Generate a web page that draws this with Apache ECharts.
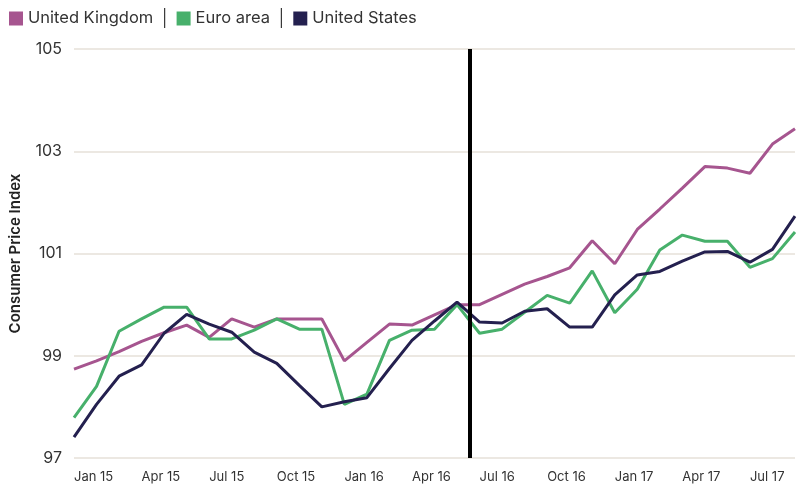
<!DOCTYPE html>
<html>
<head>
<meta charset="utf-8">
<script src="https://cdn.jsdelivr.net/npm/echarts@6/dist/echarts.min.js"></script>
<style>
  html, body { margin: 0; padding: 0; background: #fff; }
  #chart { width: 800px; height: 488px; }
</style>
</head>
<body>
<div id="chart"></div>
<script>
// months Jan 15 .. Sep 17, x value = index into this list
var months = [
  'Jan 15', 'Feb 15', 'Mar 15', 'Apr 15', 'May 15', 'Jun 15', 'Jul 15', 'Aug 15', 'Sep 15', 'Oct 15', 'Nov 15', 'Dec 15',
  'Jan 16', 'Feb 16', 'Mar 16', 'Apr 16', 'May 16', 'Jun 16', 'Jul 16', 'Aug 16', 'Sep 16', 'Oct 16', 'Nov 16', 'Dec 16',
  'Jan 17', 'Feb 17', 'Mar 17', 'Apr 17', 'May 17', 'Jun 17', 'Jul 17', 'Aug 17', 'Sep 17'
]
var ukCpi = [
  98.74, 98.9, 99.08, 99.28, 99.45, 99.6, 99.36, 99.72, 99.56, 99.72, 99.72, 99.72,
  98.9, 99.26, 99.62, 99.6, 99.8, 100.0, 100.0, 100.2, 100.4, 100.55, 100.72, 101.25,
  100.8, 101.47, 101.87, 102.28, 102.7, 102.67, 102.57, 103.14, 103.44
]
var euroCpi = [
  97.79, 98.4, 99.48, 99.72, 99.95, 99.95, 99.33, 99.33, 99.5, 99.72, 99.52, 99.52,
  98.05, 98.25, 99.3, 99.5, 99.52, 100.0, 99.44, 99.52, 99.85, 100.18, 100.03, 100.66,
  99.84, 100.3, 101.07, 101.36, 101.24, 101.24, 100.73, 100.9, 101.42
]
var usCpi = [
  97.41, 98.05, 98.6, 98.82, 99.44, 99.81, 99.62, 99.46, 99.07, 98.85, 98.42, 98.0,
  98.1, 98.18, 98.75, 99.3, 99.68, 100.05, 99.66, 99.64, 99.87, 99.92, 99.56, 99.56,
  100.19, 100.58, 100.65, 100.85, 101.03, 101.04, 100.83, 101.08, 101.73
]
// EU referendum, 23 June 2016 (month index 17 + ~0.6)
var referendumAt = 17.58

var colors = ['#a6558f', '#47b06b', '#24204f']
var fontFamily = 'Inter, "Noto Sans", sans-serif'

function pairs(values) {
  return values.map(function(v, i) { return [i, v] })
}

function lineSeries(name, values, color) {
  return {
    name: name,
    type: 'line',
    data: pairs(values),
    symbol: 'none',
    animation: false,
    lineStyle: { width: 3, color: color },
    itemStyle: { color: color },
    z: 3
  }
}

var chart = echarts.init(document.getElementById('chart'))
chart.setOption({
  color: colors,
  textStyle: { fontFamily: fontFamily },
  legend: {
    left: 4,
    top: 5,
    itemWidth: 14,
    itemHeight: 14,
    itemGap: 6,
    icon: 'rect',
    textStyle: {
      fontSize: 16.5,
      color: '#333',
      fontFamily: fontFamily,
      rich: {
        sep: { fontSize: 16.5, color: '#333', padding: [0, 0, 0, 7] }
      }
    },
    formatter: function(name) {
      return name === 'United States' ? name : name + '{sep|\u2502}'
    },
    data: ['United Kingdom', 'Euro area', 'United States']
  },
  grid: {
    left: 74,
    right: 5,
    top: 49,
    bottom: 30,
    outerBoundsMode: 'none'
  },
  xAxis: {
    type: 'value',
    min: 0,
    max: months.length - 1,
    interval: 3,
    axisLine: { show: false },
    axisTick: { show: false },
    splitLine: { show: false },
    axisLabel: {
      align: 'left',
      margin: 13,
      fontSize: 13,
      color: '#333',
      showMaxLabel: false,
      formatter: function(v) {
        return v % 3 === 0 ? months[v] : ''
      }
    }
  },
  yAxis: {
    type: 'value',
    min: 97,
    max: 105,
    interval: 2,
    name: 'Consumer Price Index',
    nameLocation: 'middle',
    nameGap: 51,
    nameTextStyle: { fontSize: 15, fontWeight: 600, color: '#222' },
    axisLine: { show: false },
    axisTick: { show: false },
    axisLabel: { fontSize: 16, color: '#333', margin: 12 },
    splitLine: { lineStyle: { color: '#e6e1d9', width: 1.5 } }
  },
  series: [
    lineSeries('United Kingdom', ukCpi, colors[0]),
    lineSeries('Euro area', euroCpi, colors[1]),
    Object.assign(lineSeries('United States', usCpi, colors[2]), {
      markLine: {
        silent: true,
        symbol: 'none',
        label: { show: false },
        lineStyle: { color: '#000', width: 4, type: 'solid' },
        data: [{ xAxis: referendumAt }]
      }
    })
  ]
})
</script>
</body>
</html>
